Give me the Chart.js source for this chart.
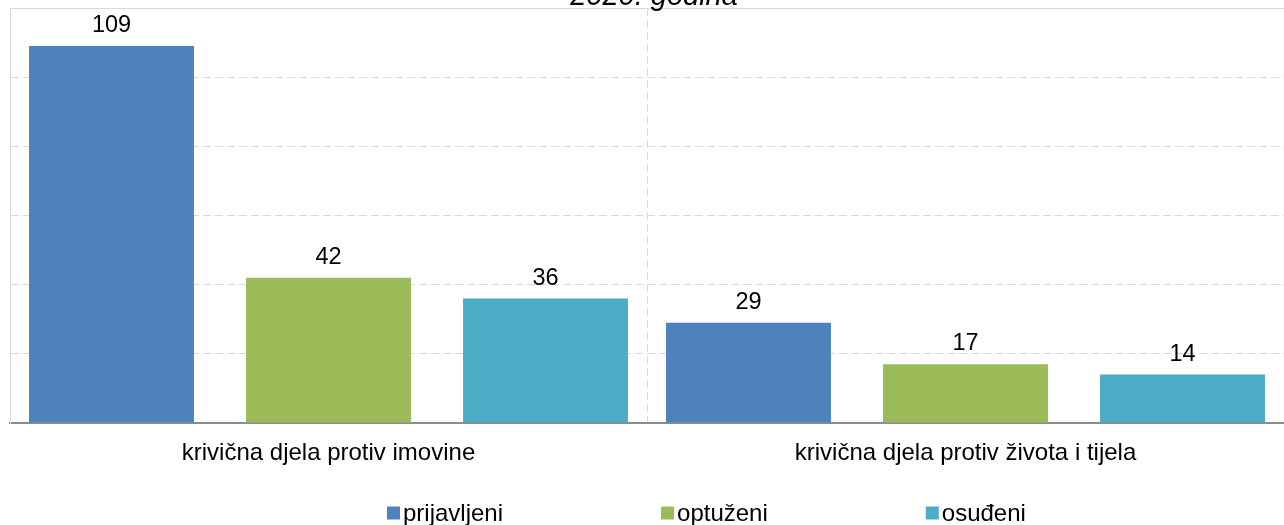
<!DOCTYPE html>
<html>
<head>
  <meta charset="utf-8">
  <title>Krivična djela 2020</title>
  <script src="https://cdn.jsdelivr.net/npm/chart.js"></script>
  <style>
    html, body { margin: 0; padding: 0; background: #fff; }
    #wrap { width: 1284px; height: 525px; position: relative; }
  </style>
</head>
<body>
  <div id="wrap"><canvas id="crimeChart"></canvas></div>

  <script>
    const title = '2020. godina';
    const categories = ['krivična djela protiv imovine', 'krivična djela protiv života i tijela'];
    const seriesNames = ['prijavljeni', 'optuženi', 'osuđeni'];
    const prijavljeni = [109, 29];
    const optuzeni = [42, 17];
    const osudeni = [36, 14];
    const yTicks = [0, 20, 40, 60, 80, 100, 120];

    const colors = ['#4F81BD', '#9BBB59', '#4BACC6'];
    const FONT = '"Liberation Sans", Arial, sans-serif';

    // value labels above the bars
    const valueLabels = {
      id: 'valueLabels',
      afterDatasetsDraw(chart) {
        const ctx = chart.ctx;
        ctx.save();
        ctx.font = '23.5px ' + FONT;
        ctx.fillStyle = '#000';
        ctx.textAlign = 'center';
        ctx.textBaseline = 'alphabetic';
        chart.data.datasets.forEach((ds, i) => {
          chart.getDatasetMeta(i).data.forEach((bar, j) => {
            ctx.fillText(String(ds.data[j]), bar.x, bar.y - 14);
          });
        });
        ctx.restore();
      }
    };

    // title (cut at the top edge) and the legend row at the bottom
    const extras = {
      id: 'extras',
      afterDraw(chart) {
        const ctx = chart.ctx;
        ctx.save();
        ctx.fillStyle = '#000';
        ctx.font = 'italic 29px ' + FONT;
        ctx.textAlign = 'center';
        ctx.textBaseline = 'alphabetic';
        ctx.fillText(title, 654, 5);

        ctx.font = '24px ' + FONT;
        ctx.textAlign = 'left';
        ctx.textBaseline = 'middle';
        let x = 387;
        const y = 513;
        chart.data.datasets.forEach(ds => {
          ctx.fillStyle = ds.backgroundColor;
          ctx.fillRect(x, y - 6.5, 13, 13);
          ctx.fillStyle = '#000';
          ctx.fillText(ds.label, x + 16, y + 1);
          x += 16 + ctx.measureText(ds.label).width + 158;
        });
        ctx.restore();
      }
    };

    const mkSet = (i, data) => ({
      label: seriesNames[i],
      data,
      backgroundColor: colors[i],
      borderWidth: 0,
      categoryPercentage: 1.022,
      barPercentage: 0.76
    });

    new Chart(document.getElementById('crimeChart'), {
      type: 'bar',
      data: {
        labels: categories,
        datasets: [mkSet(0, prijavljeni), mkSet(1, optuzeni), mkSet(2, osudeni)]
      },
      options: {
        responsive: true,
        maintainAspectRatio: false,
        animation: false,
        layout: { padding: { top: 8, left: 10, right: 0, bottom: 41.2 } },
        plugins: {
          legend: { display: false },
          tooltip: { enabled: false },
          title: { display: false }
        },
        scales: {
          x: {
            grid: { color: '#d9d9d9', drawTicks: false, lineWidth: 1 },
            border: { display: true, color: '#8c8c8c', width: 2, dash: [8, 4] },
            ticks: { color: '#000', padding: 16, font: { family: FONT, size: 24 } }
          },
          y: {
            min: yTicks[0],
            max: yTicks[yTicks.length - 1],
            afterBuildTicks: axis => { axis.ticks = yTicks.map(v => ({ value: v })); },
            grid: { color: '#d9d9d9', drawTicks: false, lineWidth: 1 },
            border: {
              display: true, color: '#d9d9d9', width: 1,
              dash: c => (c.tick && c.tick.value === yTicks[yTicks.length - 1]) ? [] : [8, 4]
            },
            ticks: { display: false }
          }
        }
      },
      plugins: [valueLabels, extras]
    });
  </script>
</body>
</html>
